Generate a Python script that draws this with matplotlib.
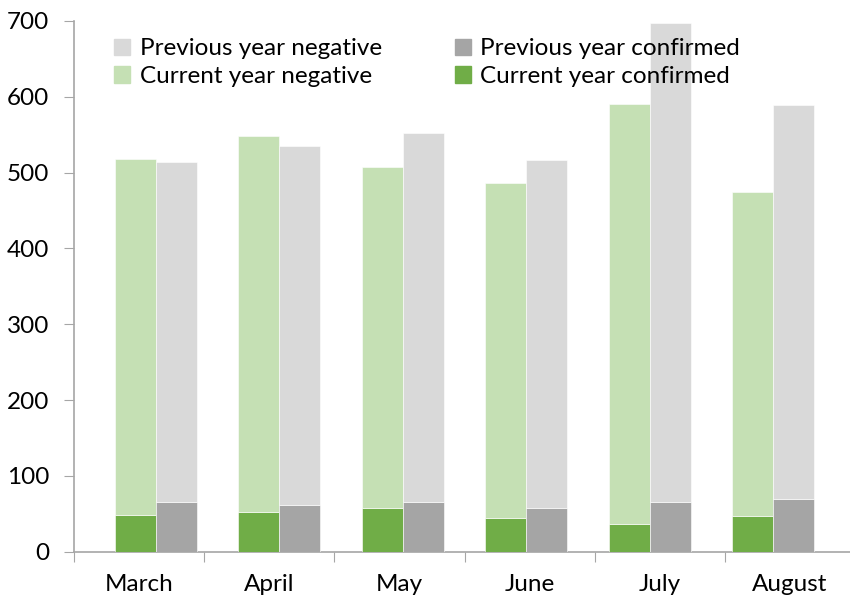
import matplotlib.pyplot as plt
import numpy as np
from matplotlib.patches import Patch

plt.rcParams['font.family'] = ['Lato', 'DejaVu Sans']

months = ['March', 'April', 'May', 'June', 'July', 'August']
cur_confirmed = [48, 53, 58, 45, 37, 47]
cur_negative = [470, 495, 450, 441, 554, 427]
prev_confirmed = [65, 61, 66, 58, 65, 70]
prev_negative = [449, 474, 486, 458, 633, 519]

c_cur_neg = '#C5E0B4'
c_cur_conf = '#70AD47'
c_prev_neg = '#D9D9D9'
c_prev_conf = '#A5A5A5'
axis_col = '#A6A6A6'

fig = plt.figure(figsize=(8.5, 5.98), dpi=100)
ax = fig.add_axes([74/850, 46.3/598, 781/850, 530.7/598])

# category axis (ticks on the boundaries, labels centred)
ax.set_xlim(0, len(months))
ax.set_ylim(0, 700)
ax.set_xticks(np.arange(len(months) + 1))
ax.set_xticklabels([])
ax.set_xticks(np.arange(len(months)) + 0.5, minor=True)
ax.set_xticklabels(months, minor=True, fontsize=17.5)
ax.tick_params(axis='x', which='major', length=7, color=axis_col, direction='out')
ax.tick_params(axis='x', which='minor', length=0, pad=16)
ax.set_yticks(range(0, 701, 100))
ax.tick_params(axis='y', length=7, color=axis_col, labelsize=17.5, pad=11)
for s in ['top', 'right']:
    ax.spines[s].set_visible(False)
for s in ['left', 'bottom']:
    ax.spines[s].set_color(axis_col)
    ax.spines[s].set_linewidth(1.2)

# bars live on a second x scale (like the Excel secondary axis)
ax2 = ax.twiny()
ax2.set_xlim(-0.665, 5.665)
ax2.axis('off')
x = np.arange(len(months))
w = 0.332
ax2.bar(x - w/2, cur_confirmed, w, color=c_cur_conf, edgecolor='white', linewidth=0.4)
ax2.bar(x - w/2, cur_negative, w, bottom=cur_confirmed, color=c_cur_neg, edgecolor='white', linewidth=0.4)
ax2.bar(x + w/2, prev_confirmed, w, color=c_prev_conf, edgecolor='white', linewidth=0.4)
ax2.bar(x + w/2, prev_negative, w, bottom=prev_confirmed, color=c_prev_neg, edgecolor='white', linewidth=0.4)

handles = [Patch(color=c_prev_neg), Patch(color=c_cur_neg),
           Patch(color=c_prev_conf), Patch(color=c_cur_conf)]
labels = ['Previous year negative', 'Current year negative',
          'Previous year confirmed', 'Current year confirmed']
fig.legend(handles, labels, ncol=2, frameon=False, fontsize=17.5,
           loc='upper left', bbox_to_anchor=(102/850, 1 - 26/598),
           handlelength=0.65, handleheight=0.65, handletextpad=0.4,
           columnspacing=3.0, labelspacing=0.28, borderpad=0)

fig.savefig('out.png', dpi=100)
